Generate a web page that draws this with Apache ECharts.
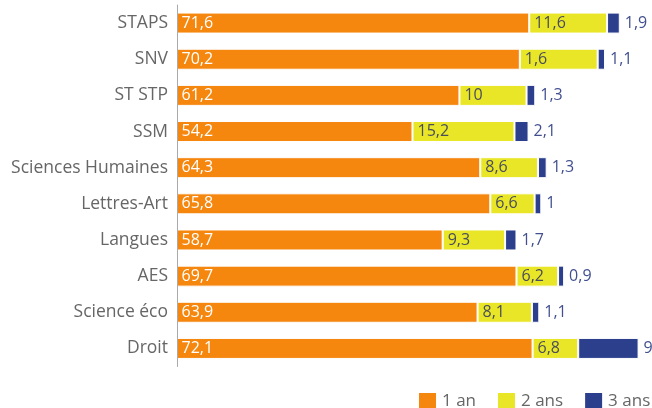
<!DOCTYPE html>
<html>
<head>
<meta charset="utf-8">
<script src="https://cdn.jsdelivr.net/npm/echarts@6/dist/echarts.min.js"></script>
<style>
html,body{margin:0;padding:0;background:#fff;}
#chart{width:652px;height:408px;}
</style>
</head>
<body>
<div id="chart"></div>
<script>
const categories = ["STAPS", "SNV", "ST STP", "SSM", "Sciences Humaines", "Lettres-Art", "Langues", "AES", "Science éco", "Droit"];
const seriesNames = ["1 an", "2 ans", "3 ans"];
const oneYear = [71.6, 70.2, 61.2, 54.2, 64.3, 65.8, 58.7, 69.7, 63.9, 72.1];
const twoYears = [11.6, 11.6, 10, 15.2, 8.6, 6.6, 9.3, 6.2, 8.1, 6.8];
// labels as printed in the source (SNV shows "1,6")
const twoYearsLabels = ["11,6", "1,6", "10", "15,2", "8,6", "6,6", "9,3", "6,2", "8,1", "6,8"];
const threeYears = [1.9, 1.1, 1.3, 2.1, 1.3, 1, 1.7, 0.9, 1.1, 9];

const FONT = '"Open Sans"';
const fmt = v => String(v).replace('.', ',');

const chart = echarts.init(document.getElementById('chart'), null, {renderer: 'canvas'});
chart.setOption({
  animation: false,
  textStyle: {fontFamily: FONT},
  grid: {left: 177, right: 0, top: 5, bottom: 41.5, containLabel: false},
  legend: {
    data: seriesNames,
    left: 417, top: 391, padding: 0,
    itemWidth: 19, itemHeight: 18, itemGap: 20,
    icon: 'rect',
    textStyle: {fontFamily: FONT, fontSize: 17, color: '#666'}
  },
  xAxis: {type: 'value', min: 19.1, max: 89.9, show: false, splitLine: {show: false}},
  yAxis: {
    type: 'category', data: categories, inverse: true, z: 5,
    axisLine: {show: true, lineStyle: {color: '#aaa', width: 1}},
    axisTick: {show: false},
    axisLabel: {fontFamily: FONT, fontSize: 17.5, color: '#666', margin: 9, padding: [8, 0, 0, 0]}
  },
  series: [
    {
      name: seriesNames[0], type: 'bar', stack: 't', data: oneYear, barWidth: 21,
      itemStyle: {color: '#F5870F', borderColor: '#fff', borderWidth: 1},
      label: {show: true, position: 'insideLeft', distance: 5, color: '#fff', fontFamily: FONT, fontSize: 16,
        padding: [0, 0, 2, 0], formatter: p => fmt(p.value)}
    },
    {
      name: seriesNames[1], type: 'bar', stack: 't', data: twoYears,
      itemStyle: {color: '#E9E627', borderColor: '#fff', borderWidth: 1},
      label: {show: true, position: 'insideLeft', distance: 5, color: '#4a4d5c', fontFamily: FONT, fontSize: 16,
        padding: [0, 0, 2, 0], formatter: p => twoYearsLabels[p.dataIndex]}
    },
    {
      name: seriesNames[2], type: 'bar', stack: 't', data: threeYears,
      itemStyle: {color: '#2C3F8D', borderColor: '#fff', borderWidth: 1},
      label: {show: true, position: 'right', distance: 5, color: '#42508f', fontFamily: FONT, fontSize: 16,
        padding: [0, 0, 2, 0], formatter: p => fmt(p.value)}
    }
  ]
});
</script>
</body>
</html>
